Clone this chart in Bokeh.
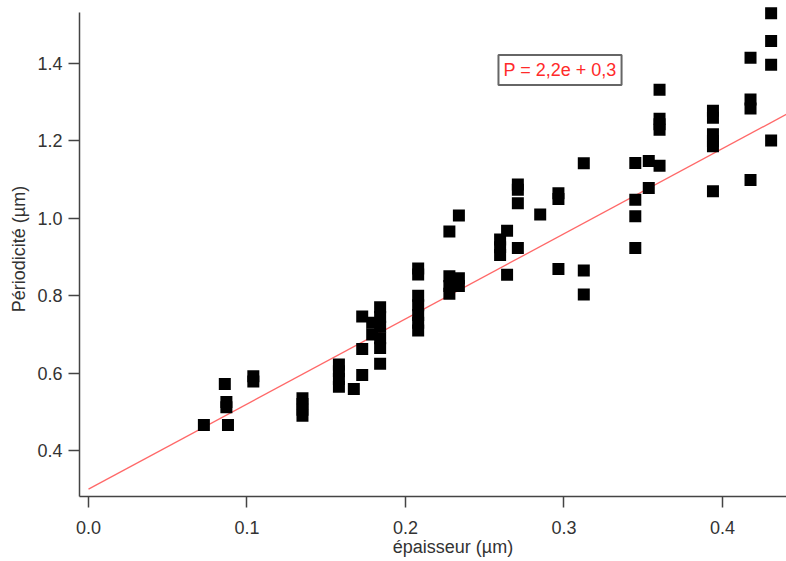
from bokeh.plotting import figure
from bokeh.models import Range1d, FixedTicker, PrintfTickFormatter, Label, ColumnDataSource
from bokeh.embed import file_html
from bokeh.resources import INLINE

# thickness (µm) and period (µm)
epaisseur = [0.0728,
             0.086, 0.087, 0.087, 0.088,
             0.104, 0.104,
             0.135, 0.135, 0.135, 0.135,
             0.158, 0.158, 0.158, 0.158,
             0.1674,
             0.1727, 0.1727, 0.1727,
             0.179, 0.179,
             0.184, 0.184, 0.184, 0.184, 0.184, 0.184,
             0.208, 0.208, 0.208, 0.208, 0.208, 0.208, 0.208,
             0.2277, 0.2277, 0.2277, 0.2277,
             0.2337, 0.2337, 0.2337,
             0.2597, 0.2597, 0.2597,
             0.2641, 0.2641,
             0.2709, 0.2709, 0.2709, 0.2709,
             0.285,
             0.2965, 0.2965, 0.2965,
             0.3125, 0.3125, 0.3125,
             0.345, 0.345, 0.345, 0.345,
             0.3535, 0.3535,
             0.3603, 0.3603, 0.3603, 0.3603, 0.3603,
             0.394, 0.394, 0.394, 0.394, 0.394, 0.394,
             0.4177, 0.4177, 0.4177, 0.4177,
             0.4307, 0.4307, 0.4307, 0.4307]
periodicite = [0.466,
               0.572, 0.525, 0.512, 0.466,
               0.578, 0.592,
               0.49, 0.505, 0.52, 0.535,
               0.565, 0.585, 0.605, 0.622,
               0.559,
               0.595, 0.662, 0.746,
               0.73, 0.70,
               0.77, 0.745, 0.72, 0.69, 0.665, 0.624,
               0.87, 0.855, 0.80, 0.775, 0.75, 0.73, 0.71,
               0.966, 0.85, 0.825, 0.805,
               1.007, 0.845, 0.825,
               0.945, 0.925, 0.905,
               0.968, 0.854,
               1.087, 1.074, 1.039, 0.923,
               1.01,
               1.065, 1.05, 0.869,
               1.142, 0.865, 0.803,
               1.143, 1.048, 1.005, 0.923,
               1.148, 1.078,
               1.332, 1.257, 1.243, 1.229, 1.136,
               1.278, 1.26, 1.217, 1.2, 1.186, 1.07,
               1.415, 1.307, 1.284, 1.099,
               1.53, 1.458, 1.397, 1.201]

slope = 2.2
intercept = 0.3
fit_x = [0.0, 0.4404]
fit_y = [slope * v + intercept for v in fit_x]

x_ticks = [0.0, 0.1, 0.2, 0.3, 0.4]
y_ticks = [0.4, 0.6, 0.8, 1.0, 1.2, 1.4]

FONT = "Liberation Sans"
AX = "#444444"
TXT = "#333333"

p = figure(width=786, height=561, output_backend="svg", toolbar_location=None,
           x_range=Range1d(-0.00568, 0.4404), y_range=Range1d(0.2811, 1.5602),
           min_border_left=79, min_border_right=0, min_border_top=1, min_border_bottom=65)
p.outline_line_color = None
p.xgrid.visible = False
p.ygrid.visible = False
p.background_fill_color = "white"

p.line(fit_x, fit_y, line_color="#ff4d4d", line_width=1.3, line_alpha=0.85)
src = ColumnDataSource(dict(x=epaisseur, y=periodicite))
p.scatter("x", "y", source=src, marker="square", size=12, fill_color="black", line_color="black", line_width=0)

for ax in (p.xaxis[0], p.yaxis[0]):
    ax.axis_line_color = AX
    ax.axis_line_width = 1.5
    ax.major_tick_line_color = AX
    ax.major_tick_line_width = 1.5
    ax.major_tick_out = 11
    ax.major_tick_in = 0
    ax.minor_tick_line_color = None
    ax.major_label_text_font = FONT
    ax.major_label_text_font_size = "18px"
    ax.major_label_text_color = TXT
    ax.formatter = PrintfTickFormatter(format="%.1f")
    ax.axis_label_text_font = FONT
    ax.axis_label_text_font_size = "18px"
    ax.axis_label_text_font_style = "normal"
    ax.axis_label_text_color = TXT

p.yaxis[0].bounds = (0.2811, 1.5318)
p.xaxis[0].ticker = FixedTicker(ticks=x_ticks)
p.yaxis[0].ticker = FixedTicker(ticks=y_ticks)
p.xaxis[0].major_label_standoff = 13
p.yaxis[0].major_label_standoff = 6

p.yaxis[0].axis_label = "Périodicité (µm)"
p.yaxis[0].axis_label_standoff = 5

# x title sits right of the frame centre in the reference: pad with no-break spaces
p.xaxis[0].axis_label = "\u00a0" * 8 + "épaisseur (µm)"
p.xaxis[0].axis_label_standoff = 0

eq = Label(x=0.2975, y=1.383, text="P = 2,2e + 0,3", text_align="center", text_baseline="middle",
           text_font=FONT, text_font_size="18px", text_color="#ff2a2a",
           background_fill_color="white", border_line_color="#666666", border_line_width=2,
           padding=5)
p.add_layout(eq)

open("out.html", "w").write(file_html(p, INLINE))
